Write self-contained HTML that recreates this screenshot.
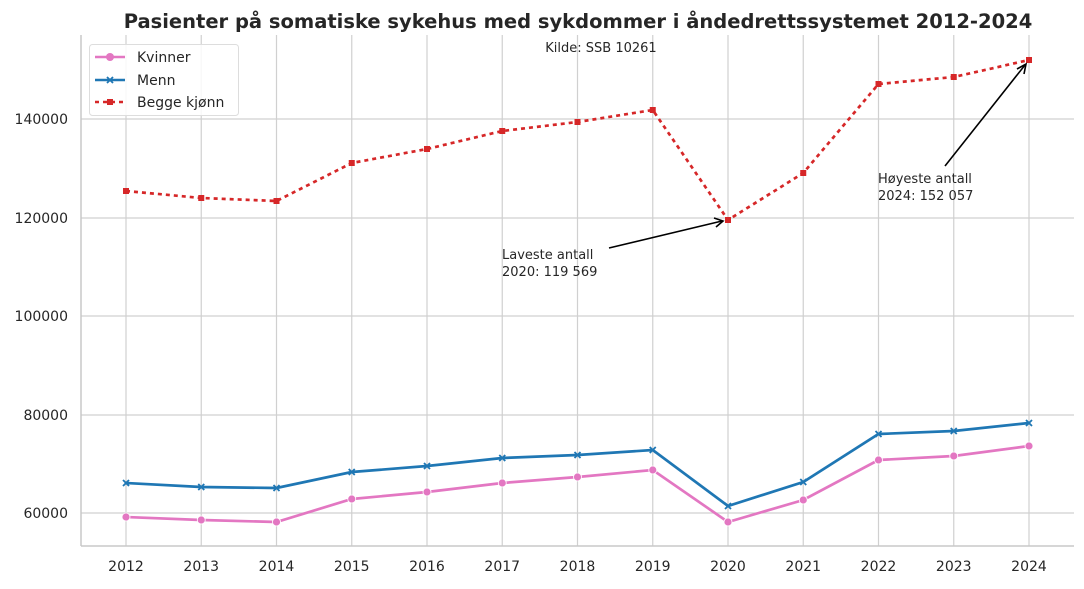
<!DOCTYPE html>
<html><head><meta charset="utf-8"><style>
body{margin:0;background:#fff;}
svg text{font-family:"DejaVu Sans","Liberation Sans",sans-serif;fill:#262626;}
</style></head><body>
<svg width="1084" height="584" viewBox="0 0 1084 584" xmlns="http://www.w3.org/2000/svg">
<text x="578" y="28" text-anchor="middle" font-size="19.5" font-weight="bold">Pasienter på somatiske sykehus med sykdommer i åndedrettssystemet 2012-2024</text>
<g stroke="#d0d0d0" stroke-width="1.2">
<line x1="126" y1="35" x2="126" y2="546"/><line x1="201.25" y1="35" x2="201.25" y2="546"/><line x1="276.5" y1="35" x2="276.5" y2="546"/><line x1="351.75" y1="35" x2="351.75" y2="546"/><line x1="427" y1="35" x2="427" y2="546"/><line x1="502.25" y1="35" x2="502.25" y2="546"/><line x1="577.5" y1="35" x2="577.5" y2="546"/><line x1="652.75" y1="35" x2="652.75" y2="546"/><line x1="728" y1="35" x2="728" y2="546"/><line x1="803.25" y1="35" x2="803.25" y2="546"/><line x1="878.5" y1="35" x2="878.5" y2="546"/><line x1="953.75" y1="35" x2="953.75" y2="546"/><line x1="1029" y1="35" x2="1029" y2="546"/>
<line x1="81" y1="119" x2="1074" y2="119"/><line x1="81" y1="218" x2="1074" y2="218"/><line x1="81" y1="316" x2="1074" y2="316"/><line x1="81" y1="415" x2="1074" y2="415"/><line x1="81" y1="513" x2="1074" y2="513"/>
</g>
<g stroke="#c8c8c8" stroke-width="1.5"><line x1="81" y1="35" x2="81" y2="546"/><line x1="81" y1="546" x2="1074" y2="546"/></g>
<g font-size="14" text-anchor="end"><text x="68" y="124">140000</text><text x="68" y="223">120000</text><text x="68" y="321">100000</text><text x="68" y="420">80000</text><text x="68" y="518">60000</text></g>
<g font-size="14" text-anchor="middle"><text x="126" y="571">2012</text><text x="201.25" y="571">2013</text><text x="276.5" y="571">2014</text><text x="351.75" y="571">2015</text><text x="427" y="571">2016</text><text x="502.25" y="571">2017</text><text x="577.5" y="571">2018</text><text x="652.75" y="571">2019</text><text x="728" y="571">2020</text><text x="803.25" y="571">2021</text><text x="878.5" y="571">2022</text><text x="953.75" y="571">2023</text><text x="1029" y="571">2024</text></g>
<text x="601" y="52" text-anchor="middle" font-size="13">Kilde: SSB 10261</text>
<polyline fill="none" stroke="#d62728" stroke-width="2.7" stroke-dasharray="4,4" points="126,191 201.25,198 276.5,201 351.75,163 427,149 502.25,131 577.5,122 652.75,110 728,220 803.25,173 878.5,84 953.75,77 1029,60"/>
<g fill="#d62728"><rect x="123" y="188" width="6" height="6"/><rect x="198.25" y="195" width="6" height="6"/><rect x="273.5" y="198" width="6" height="6"/><rect x="348.75" y="160" width="6" height="6"/><rect x="424" y="146" width="6" height="6"/><rect x="499.25" y="128" width="6" height="6"/><rect x="574.5" y="119" width="6" height="6"/><rect x="649.75" y="107" width="6" height="6"/><rect x="725" y="217" width="6" height="6"/><rect x="800.25" y="170" width="6" height="6"/><rect x="875.5" y="81" width="6" height="6"/><rect x="950.75" y="74" width="6" height="6"/><rect x="1026" y="57" width="6" height="6"/></g>
<polyline fill="none" stroke="#1f77b4" stroke-width="2.7" points="126,483 201.25,487 276.5,488 351.75,472 427,466 502.25,458 577.5,455 652.75,450 728,506 803.25,482 878.5,434 953.75,431 1029,423"/>
<g stroke="#1f77b4" stroke-width="1.8"><path d="M123,480l6,6m0,-6l-6,6M198.25,484l6,6m0,-6l-6,6M273.5,485l6,6m0,-6l-6,6M348.75,469l6,6m0,-6l-6,6M424,463l6,6m0,-6l-6,6M499.25,455l6,6m0,-6l-6,6M574.5,452l6,6m0,-6l-6,6M649.75,447l6,6m0,-6l-6,6M725,503l6,6m0,-6l-6,6M800.25,479l6,6m0,-6l-6,6M875.5,431l6,6m0,-6l-6,6M950.75,428l6,6m0,-6l-6,6M1026,420l6,6m0,-6l-6,6"/></g>
<polyline fill="none" stroke="#e377c2" stroke-width="2.7" points="126,517 201.25,520 276.5,522 351.75,499 427,492 502.25,483 577.5,477 652.75,470 728,522 803.25,500 878.5,460 953.75,456 1029,446"/>
<g fill="#e377c2" stroke="#fff" stroke-width="0.8"><circle cx="126" cy="517" r="4"/><circle cx="201.25" cy="520" r="4"/><circle cx="276.5" cy="522" r="4"/><circle cx="351.75" cy="499" r="4"/><circle cx="427" cy="492" r="4"/><circle cx="502.25" cy="483" r="4"/><circle cx="577.5" cy="477" r="4"/><circle cx="652.75" cy="470" r="4"/><circle cx="728" cy="522" r="4"/><circle cx="803.25" cy="500" r="4"/><circle cx="878.5" cy="460" r="4"/><circle cx="953.75" cy="456" r="4"/><circle cx="1029" cy="446" r="4"/></g>
<g stroke="#000" stroke-width="1.6" fill="none"><line x1="609" y1="248" x2="722" y2="221"/><path d="M714,218 L723,221 L716,227"/><line x1="945" y1="166" x2="1025" y2="65"/><path d="M1017,69 L1026,64 L1024,74"/></g>
<g font-size="13"><text x="502" y="259">Laveste antall</text><text x="502" y="276">2020: 119 569</text><text x="878" y="183">Høyeste antall</text><text x="878" y="200">2024: 152 057</text></g>
<rect x="89.5" y="44.5" width="149" height="71" rx="3" fill="#fff" fill-opacity="0.85" stroke="#ddd"/>
<line x1="95" y1="57" x2="125" y2="57" stroke="#e377c2" stroke-width="2.5"/><circle cx="110" cy="57" r="4" fill="#e377c2"/>
<line x1="95" y1="80" x2="125" y2="80" stroke="#1f77b4" stroke-width="2.5"/><path d="M107,77l6,6m0,-6l-6,6" stroke="#1f77b4" stroke-width="1.8"/>
<line x1="95" y1="102" x2="125" y2="102" stroke="#d62728" stroke-width="2.5" stroke-dasharray="4,4"/><rect x="107" y="99" width="6" height="6" fill="#d62728"/>
<g font-size="14"><text x="137" y="62">Kvinner</text><text x="137" y="85">Menn</text><text x="137" y="107">Begge kjønn</text></g>
</svg>
</body></html>
